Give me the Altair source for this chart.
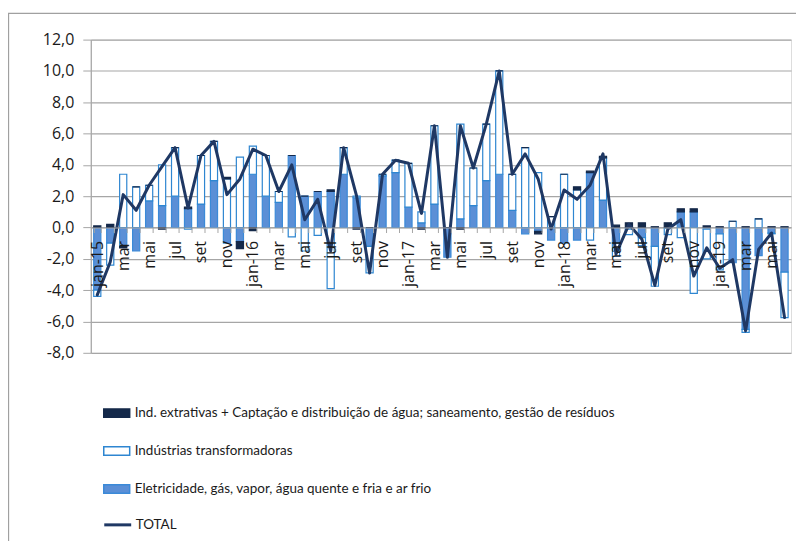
import altair as alt
import pandas as pd

# ---- data ----
months = [f"{y}-{m:02d}" for y in range(2015, 2020) for m in range(1, 13)][:54]

elec = [-4.0, -1.0, -1.2, -1.5, 1.7, 1.4, 2.0, 1.2, 1.5, 3.0, -1.0, -0.9,
        3.4, 2.0, 1.6, 4.6, 2.0, 2.3, 2.3, 3.4, 1.9, -1.2, 3.3, 3.5,
        1.3, 0.3, 1.5, -1.9, 0.55, 1.4, 3.0, 3.4, 1.1, -0.4, -0.25, -0.8,
        -1.0, -0.8, 3.5, 1.75, -1.0, -0.1, -0.65, -1.2, -0.05, 1.0, 1.0, -0.1,
        -0.4, -2.25, -6.5, -1.8, -0.35, -2.85]
transf = [-0.4, -1.4, 3.4, 2.6, 1.0, 2.6, 3.1, -0.1, 3.1, 2.5, 3.1, 4.5,
          1.8, 2.6, 0.7, -0.6, -1.5, -0.5, -3.9, 1.7, 0.1, -1.7, 0.1, 0.8,
          2.8, 0.7, 5.0, 0.0, 6.05, 2.4, 3.6, 6.6, 2.3, 5.1, 3.5, 0.7,
          3.4, 2.4, -0.8, 2.7, -0.85, -0.35, -0.5, -2.55, -0.4, -0.65, -4.2, -1.9,
          -2.3, 0.4, -0.2, 0.55, -0.05, -2.9]
extr = [0.1, 0.2, -0.1, 0.0, 0.0, -0.1, 0.0, 0.1, 0.0, 0.0, 0.1, -0.45,
        -0.2, 0.0, 0.0, 0.0, 0.0, 0.0, 0.1, 0.0, -0.1, 0.0, 0.0, 0.0,
        0.0, -0.1, 0.0, 0.0, -0.1, 0.0, 0.0, 0.0, 0.0, 0.0, -0.15, 0.0,
        0.0, 0.2, 0.1, 0.1, 0.15, 0.3, 0.3, 0.05, 0.3, 0.2, 0.2, 0.1,
        0.05, 0.0, 0.05, 0.0, 0.05, 0.05]
total = [-4.3, -2.2, 2.1, 1.1, 2.7, 3.9, 5.1, 1.25, 4.6, 5.5, 2.1, 3.1,
         5.0, 4.6, 2.3, 4.0, 0.5, 1.8, -1.5, 5.1, 2.0, -2.9, 3.4, 4.3,
         4.1, 0.9, 6.5, -1.9, 6.5, 3.8, 6.6, 10.0, 3.4, 4.7, 3.1, -0.1,
         2.4, 1.8, 2.7, 4.7, -1.7, 0.2, -0.75, -3.7, -0.1, 0.5, -3.1, -1.3,
         -2.6, -2.05, -6.6, -1.4, -0.35, -5.75]

S_EXTR = "Ind. extrativas + Captação e distribuição de água; saneamento, gestão de resíduos"
S_TRANSF = "Indústrias transformadoras"
S_ELEC = "Eletricidade, gás, vapor, água quente e fria e ar frio"
series_names = [S_EXTR, S_TRANSF, S_ELEC]
fill_colors = ["#14294a", "#ffffff", "#5b8fd6"]
stroke_colors = ["#14294a", "#2e86d1", "#3b8ad8"]

rows = []
for i, k in enumerate(months):
    rows.append({"mes": k, "serie": S_ELEC, "valor": elec[i], "ordem": 0})
    rows.append({"mes": k, "serie": S_TRANSF, "valor": transf[i], "ordem": 1})
    rows.append({"mes": k, "serie": S_EXTR, "valor": extr[i], "ordem": 2})
bars_df = pd.DataFrame(rows)
line_df = pd.DataFrame({"mes": months, "valor": total, "serie": ["TOTAL"] * len(months)})

AX_FONT = "Open Sans"
LEG_FONT = "'Liberation Sans Narrow', Lato, sans-serif"
GRID = "#a6a6a6"
W, H = 702, 314
YMIN, YMAX = -8, 12
zero_offset = -H * (0 - YMIN) / (YMAX - YMIN)

x_label_expr = (
    "toNumber(substring(datum.value,5,7)) % 2 == 0 ? '' : "
    "(substring(datum.value,5,7) == '01' ? 'jan-' + substring(datum.value,2,4) : "
    "['jan','fev','mar','abr','mai','jun','jul','ago','set','out','nov','dez']"
    "[toNumber(substring(datum.value,5,7))-1])"
)

x_enc = alt.X(
    "mes:N", sort=months, title=None,
    scale=alt.Scale(paddingInner=0.45, paddingOuter=0.225),
    axis=alt.Axis(
        orient="bottom", offset=zero_offset, labelAngle=270, labelExpr=x_label_expr,
        tickBand="extent", tickSize=5, tickColor=GRID, domainColor=GRID, domainWidth=1.2,
        labelPadding=8, labelFont=AX_FONT, labelFontSize=16, labelColor="#1a1a1a",
        grid=False, zindex=1,
    ),
)

y_scale = alt.Scale(domain=[YMIN, YMAX], nice=False, zero=False)
y_axis = alt.Axis(
    values=list(range(YMIN, YMAX + 1, 2)),
    labelExpr="(datum.value < 0 ? '-' : '') + replace(format(abs(datum.value), '.1f'), '.', ',')",
    title=None, grid=True, gridColor=GRID, gridWidth=1.2,
    domain=True, domainColor=GRID, domainWidth=1.2, tickColor=GRID, tickSize=8,
    labelPadding=9, labelFont=AX_FONT, labelFontSize=16, labelColor="#1a1a1a",
)

bar_legend = alt.Legend(
    title=None, orient="none", legendX=18.5, legendY=367, direction="vertical",
    symbolType="M-2,-0.65H2V0.65H-2Z", symbolSize=169, symbolStrokeWidth=1.5,
    labelOffset=10.5, rowPadding=23, labelFont=LEG_FONT, labelFontSize=13.5,
    labelColor="#1a1a1a", labelLimit=0,
)

# decorative chart-area frame (Excel-style border)
frame = alt.Chart(pd.DataFrame({"f": [0]})).mark_rect(
    fillOpacity=0, stroke="#a0a0a0", strokeWidth=1.3
).encode(
    x=alt.value(-82.5), x2=alt.value(W + 40), y=alt.value(-26.3), y2=alt.value(H + 300)
)

bars = alt.Chart(bars_df).mark_bar(strokeWidth=1.2).encode(
    x=x_enc,
    y=alt.Y("valor:Q", stack="zero", scale=y_scale, axis=y_axis),
    fill=alt.Fill("serie:N", scale=alt.Scale(domain=series_names, range=fill_colors), legend=bar_legend),
    stroke=alt.Stroke("serie:N", scale=alt.Scale(domain=series_names, range=stroke_colors), legend=bar_legend),
    order=alt.Order("ordem:Q", sort="ascending"),
)

line = alt.Chart(line_df).mark_line(strokeWidth=3, strokeJoin="round", strokeCap="round").encode(
    x=x_enc,
    y=alt.Y("valor:Q", stack=None, scale=y_scale, axis=y_axis),
    color=alt.Color(
        "serie:N", scale=alt.Scale(domain=["TOTAL"], range=["#1f3864"]),
        legend=alt.Legend(
            title=None, orient="none", legendX=12, legendY=471.5, direction="vertical",
            symbolType="stroke", symbolSize=729, symbolStrokeWidth=3, labelOffset=3,
            labelFont=LEG_FONT, labelFontSize=13.5, labelColor="#1a1a1a", labelLimit=0,
        ),
    ),
)

chart = alt.layer(frame, bars, line).properties(
    width=W, height=H,
    autosize=alt.AutoSizeParams(type="none"),
    padding={"left": 83, "top": 31, "right": 5, "bottom": 188},
).configure_view(strokeWidth=0).configure(background="#ffffff")

chart.save("out.html", embed_options={"renderer": "svg", "actions": False})
